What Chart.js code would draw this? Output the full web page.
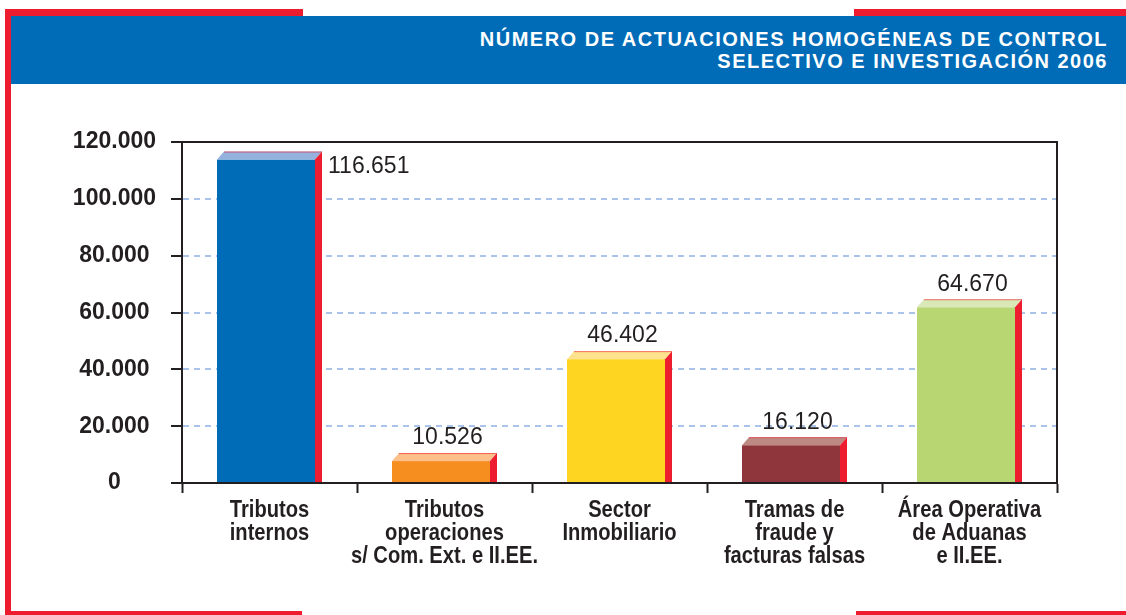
<!DOCTYPE html>
<html lang="es">
<head>
<meta charset="UTF-8">
<title>Número de actuaciones homogéneas de control selectivo e investigación 2006</title>
<script src="https://cdn.jsdelivr.net/npm/chart.js"></script>
<style>
    html, body { margin: 0; padding: 0; background: #fff; }
    body {
        width: 1126px;
        height: 615px;
        position: relative;
        overflow: hidden;
        font-family: 'Liberation Sans', Arial, sans-serif;
    }
    .red { position: absolute; background: #ed1c2e; }
    .banner {
        position: absolute;
        left: 11px;
        top: 16px;
        width: 1115px;
        height: 68px;
        background: #006bb6;
    }
    .title {
        position: absolute;
        right: 18px;
        top: 28px;
        color: #fff;
        font-weight: bold;
        font-size: 20px;
        line-height: 22px;
        letter-spacing: 1.5px;
        text-align: right;
        white-space: nowrap;
    }
    .chart-box {
        position: absolute;
        left: 0;
        top: 100px;
        width: 1126px;
        height: 500px;
    }
</style>
</head>
<body>
<div class="chart-box"><canvas id="chart"></canvas></div>

<div class="red" style="left:5px;top:9px;width:298px;height:7px"></div>
<div class="red" style="left:854px;top:9px;width:272px;height:7px"></div>
<div class="red" style="left:5px;top:9px;width:6px;height:606px"></div>
<div class="red" style="left:5px;top:611px;width:297px;height:4px"></div>
<div class="red" style="left:856px;top:611px;width:270px;height:4px"></div>
<div class="banner"></div>
<div class="title">NÚMERO DE ACTUACIONES HOMOGÉNEAS DE CONTROL<br>SELECTIVO E INVESTIGACIÓN 2006</div>

<script>
    // datos
    const categories = [
        ['Tributos', 'internos'],
        ['Tributos', 'operaciones', 's/ Com. Ext. e II.EE.'],
        ['Sector', 'Inmobiliario'],
        ['Tramas de', 'fraude y', 'facturas falsas'],
        ['Área Operativa', 'de Aduanas', 'e II.EE.']
    ];
    const actuaciones = [116651, 10526, 46402, 16120, 64670];
    const yTicks = [0, 20000, 40000, 60000, 80000, 100000, 120000];

    // colores
    const frontColors = ['#006cb7', '#f68d1f', '#fed520', '#8e363c', '#b8d672'];
    const topColors = ['#94b2dd', '#fdc08a', '#fee38e', '#bc8a82', '#d9e8b6'];
    const sideColor = '#ed1c2e';
    const ink = '#231f20';
    const gridBlue = '#aac3ea';
    const sans = "'Liberation Sans', Arial, sans-serif";

    function fmt(v) {
        return String(v).replace(/\B(?=(\d{3})+(?!\d))/g, '.');
    }

    // barras con efecto 3D, etiquetas de valor y rótulos condensados
    const bars3d = {
        id: 'bars3d',
        afterDatasetsDraw(chart) {
            const ctx = chart.ctx;
            const meta = chart.getDatasetMeta(0);
            const dx = 7, dy = 8;
            meta.data.forEach((bar, i) => {
                const left = bar.x - bar.width / 2;
                const right = bar.x + bar.width / 2;
                const top = bar.y;
                const base = bar.base;
                ctx.save();
                ctx.fillStyle = frontColors[i];
                ctx.fillRect(left, top + dy, right - dx - left, base - top - dy);

                ctx.fillStyle = topColors[i];
                ctx.beginPath();
                ctx.moveTo(left, top + dy);
                ctx.lineTo(left + dx, top);
                ctx.lineTo(right, top);
                ctx.lineTo(right - dx, top + dy);
                ctx.closePath();
                ctx.fill();

                ctx.fillStyle = sideColor;
                ctx.beginPath();
                ctx.moveTo(right - dx, top + dy);
                ctx.lineTo(right, top);
                ctx.lineTo(right, base);
                ctx.lineTo(right - dx, base);
                ctx.closePath();
                ctx.fill();

                ctx.strokeStyle = 'rgba(237, 28, 46, 0.6)';
                ctx.lineWidth = 1;
                ctx.beginPath();
                ctx.moveTo(left + dx, top + 0.5);
                ctx.lineTo(right, top + 0.5);
                ctx.stroke();

                // etiqueta
                ctx.fillStyle = ink;
                ctx.textBaseline = 'middle';
                ctx.font = '23px ' + sans;
                if (i === 0) {
                    ctx.textAlign = 'left';
                    ctx.fillText(fmt(actuaciones[i]), right + 6, top + 15);
                } else {
                    ctx.textAlign = 'center';
                    ctx.fillText(fmt(actuaciones[i]), bar.x + 3, top - 15);
                }
                ctx.restore();
            });
        },
        afterDraw(chart) {
            const a = chart.chartArea;
            const ctx = chart.ctx;
            const xs = chart.scales.x;
            ctx.save();
            // borde derecho del área
            ctx.strokeStyle = ink;
            ctx.lineWidth = 2;
            ctx.beginPath();
            ctx.moveTo(a.right, a.top - 1);
            ctx.lineTo(a.right, a.bottom);
            ctx.stroke();

            // rótulos del eje x (negrita condensada)
            ctx.fillStyle = ink;
            ctx.font = 'bold 24px ' + sans;
            ctx.textAlign = 'center';
            ctx.textBaseline = 'alphabetic';
            categories.forEach((lines, i) => {
                const x = xs.getPixelForTick(i);
                lines.forEach((line, k) => {
                    ctx.save();
                    ctx.translate(x, xs.top + 34 + k * 23);
                    ctx.scale(0.84, 1);
                    ctx.fillText(line, 0, 0);
                    ctx.restore();
                });
            });
            ctx.restore();
        }
    };

    const isTop = c => c.tick && c.tick.value === 120000;
    const isZero = c => c.tick && c.tick.value === 0;

    new Chart(document.getElementById('chart'), {
        type: 'bar',
        data: {
            labels: categories,
            datasets: [{
                data: actuaciones,
                backgroundColor: 'rgba(0,0,0,0)',
                borderWidth: 0,
                barPercentage: 0.6,
                categoryPercentage: 1
            }]
        },
        options: {
            responsive: true,
            maintainAspectRatio: false,
            animation: false,
            layout: { padding: { top: 42, right: 69, bottom: 0, left: 0 } },
            plugins: {
                legend: { display: false },
                tooltip: { enabled: false }
            },
            scales: {
                x: {
                    afterFit: s => { s.height = 117; },
                    border: { color: ink, width: 2 },
                    grid: {
                        offset: true,
                        drawOnChartArea: false,
                        tickLength: 10,
                        tickColor: ink,
                        tickWidth: 2
                    },
                    ticks: { display: false, autoSkip: false, maxRotation: 0 }
                },
                y: {
                    min: 0,
                    max: 120000,
                    afterBuildTicks: s => { s.ticks = yTicks.map(v => ({ value: v })); },
                    afterFit: s => { s.width = 182; },
                    border: {
                        color: ink,
                        width: 2,
                        dash: c => isTop(c) ? [] : [6, 5]
                    },
                    grid: {
                        color: c => isTop(c) ? ink : (isZero(c) ? 'rgba(0,0,0,0)' : gridBlue),
                        lineWidth: 2,
                        tickLength: 11,
                        tickColor: ink,
                        tickWidth: 2,
                        tickBorderDash: []
                    },
                    ticks: {
                        color: ink,
                        font: { family: sans, size: 23, weight: 'bold' },
                        padding: 15,
                        crossAlign: 'center',
                        callback: v => fmt(v)
                    }
                }
            }
        },
        plugins: [bars3d]
    });
</script>
</body>
</html>
